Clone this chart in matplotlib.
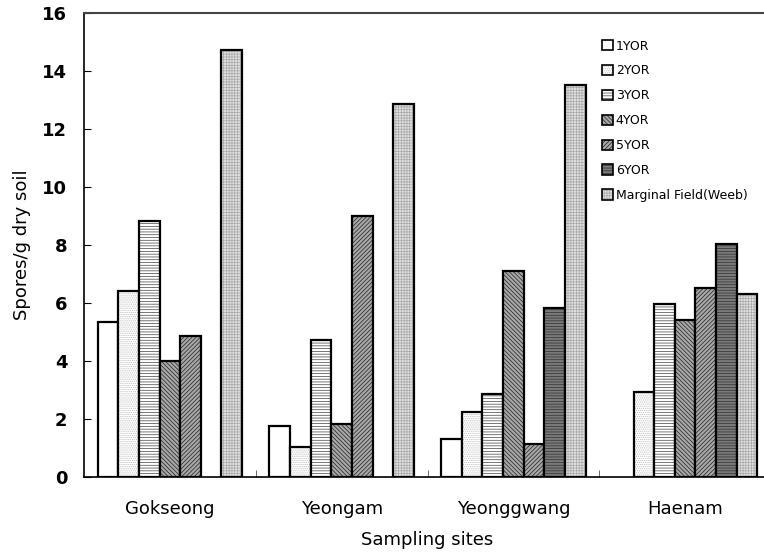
import numpy as np
import matplotlib
matplotlib.use('Agg')
import matplotlib.pyplot as plt

# 데이터
sites = ['Gokseong', 'Yeongam', 'Yeonggwang', 'Haenam']
series = ['1YOR', '2YOR', '3YOR', '4YOR', '5YOR', '6YOR', 'Marginal Field(Weeb)']
yor1 = [5.34, 1.73, 1.31, 0]
yor2 = [6.41, 1.01, 2.24, 2.90]
yor3 = [8.81, 4.72, 2.85, 5.94]
yor4 = [3.99, 1.80, 7.09, 5.39]
yor5 = [4.84, 8.98, 1.12, 6.49]
yor6 = [0, 0, 5.82, 8.01]
marginal = [14.69, 12.83, 13.49, 6.31]
values = [yor1, yor2, yor3, yor4, yor5, yor6, marginal]

# 패턴 (채움색, 해치, 해치색)
styles = [
    ('white', '', 'black'),
    ('white', '........', '#b8b8b8'),
    ('white', '------', '#404040'),
    ('#a8a8a8', '\\\\\\\\\\\\\\\\', '#202020'),
    ('#a8a8a8', '////////', '#202020'),
    ('#7a7a7a', '------', '#303030'),
    ('#e0e0e0', '++++++', '#a8a8a8'),
]

plt.rcParams['hatch.linewidth'] = 0.5
plt.rcParams['font.family'] = 'DejaVu Sans'

fig = plt.figure(figsize=(7.64, 5.56), dpi=100)
ax = fig.add_axes([84 / 764, 79.5 / 556, 687 / 764, 464 / 556])

x = np.arange(len(sites))
w = 0.12
for i, (name, vals) in enumerate(zip(series, values)):
    fc, hatch, hc = styles[i]
    vals = np.array(vals, dtype=float)
    vals[vals == 0] = np.nan  # 값이 없는 막대는 그리지 않음
    bars = ax.bar(x + (i - 3) * w, vals, w, label=name, facecolor=fc,
                  edgecolor='black', linewidth=1.6, hatch=hatch)
    for b in bars:
        b._hatch_color = matplotlib.colors.to_rgba(hc)

ax.set_xlim(-0.5, 3.5)
ax.set_ylim(0, 16)
ax.set_yticks(range(0, 17, 2))
ax.set_xticks(x)
ax.set_xticklabels(sites, fontsize=13)
ax.set_xticks(np.arange(0.5, 3, 1), minor=True)
ax.tick_params(axis='x', which='major', length=0, pad=17)
ax.tick_params(axis='x', which='minor', direction='in', length=5, color='#555555')
ax.tick_params(axis='y', direction='in', length=5, labelsize=13, pad=12)
for lab in ax.get_yticklabels():
    lab.set_fontweight('bold')

ax.set_xlabel('Sampling sites', fontsize=13, labelpad=9)
ax.set_ylabel('Spores/g dry soil', fontsize=13, labelpad=8)

ax.spines['right'].set_visible(False)
ax.spines['top'].set_color('#444444')
ax.spines['top'].set_linewidth(1.5)
ax.spines['left'].set_linewidth(1.2)
ax.spines['bottom'].set_linewidth(1.2)

leg = ax.legend(loc='upper left', bbox_to_anchor=((597 - 84) / 687, 1 - 22 / 464),
                frameon=False, fontsize=9, handlelength=0.9, handleheight=0.9,
                handletextpad=0.2, labelspacing=0.95, borderaxespad=0)
for h in leg.legend_handles:
    h.set_linewidth(1.2)

fig.savefig('out.png', dpi=100)
